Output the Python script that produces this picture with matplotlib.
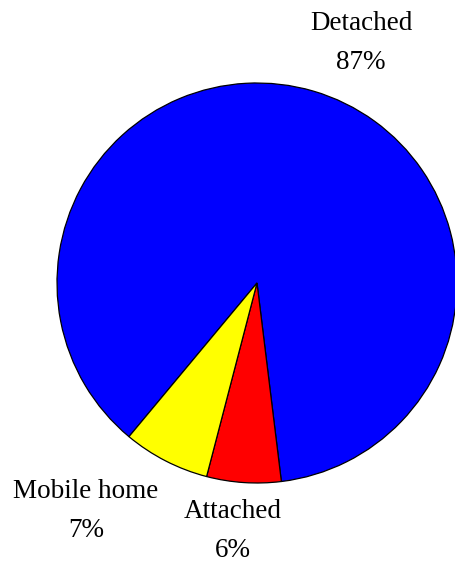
import matplotlib.pyplot as plt

## data
labels = ['Detached', 'Attached', 'Mobile home']
shares = [87, 6, 7]
colors = ['#0000ff', '#ff0000', '#ffff00']
# label anchor points (data units, pie radius = 1)
label_x = [0.52, -0.12, -0.855]
label_y = [1.2, -1.24, -1.14]

fig = plt.figure(figsize=(4.56, 5.65), dpi=100)
ax = fig.add_axes([0, 0, 1, 1])
ax.pie(shares, colors=colors, startangle=-129.8, counterclock=False,
       wedgeprops=dict(edgecolor='black', linewidth=0.9))
ax.set_xlim(-1.285, 0.995)
ax.set_ylim(-1.41, 1.415)
ax.set_aspect('equal')
ax.axis('off')

for lab, s, x, y in zip(labels, shares, label_x, label_y):
    ax.text(x, y, '%s\n%d%%' % (lab, s), ha='center', va='center',
            fontsize=19.5, family='Liberation Serif', linespacing=1.7)

plt.savefig('out.png', dpi=100)
